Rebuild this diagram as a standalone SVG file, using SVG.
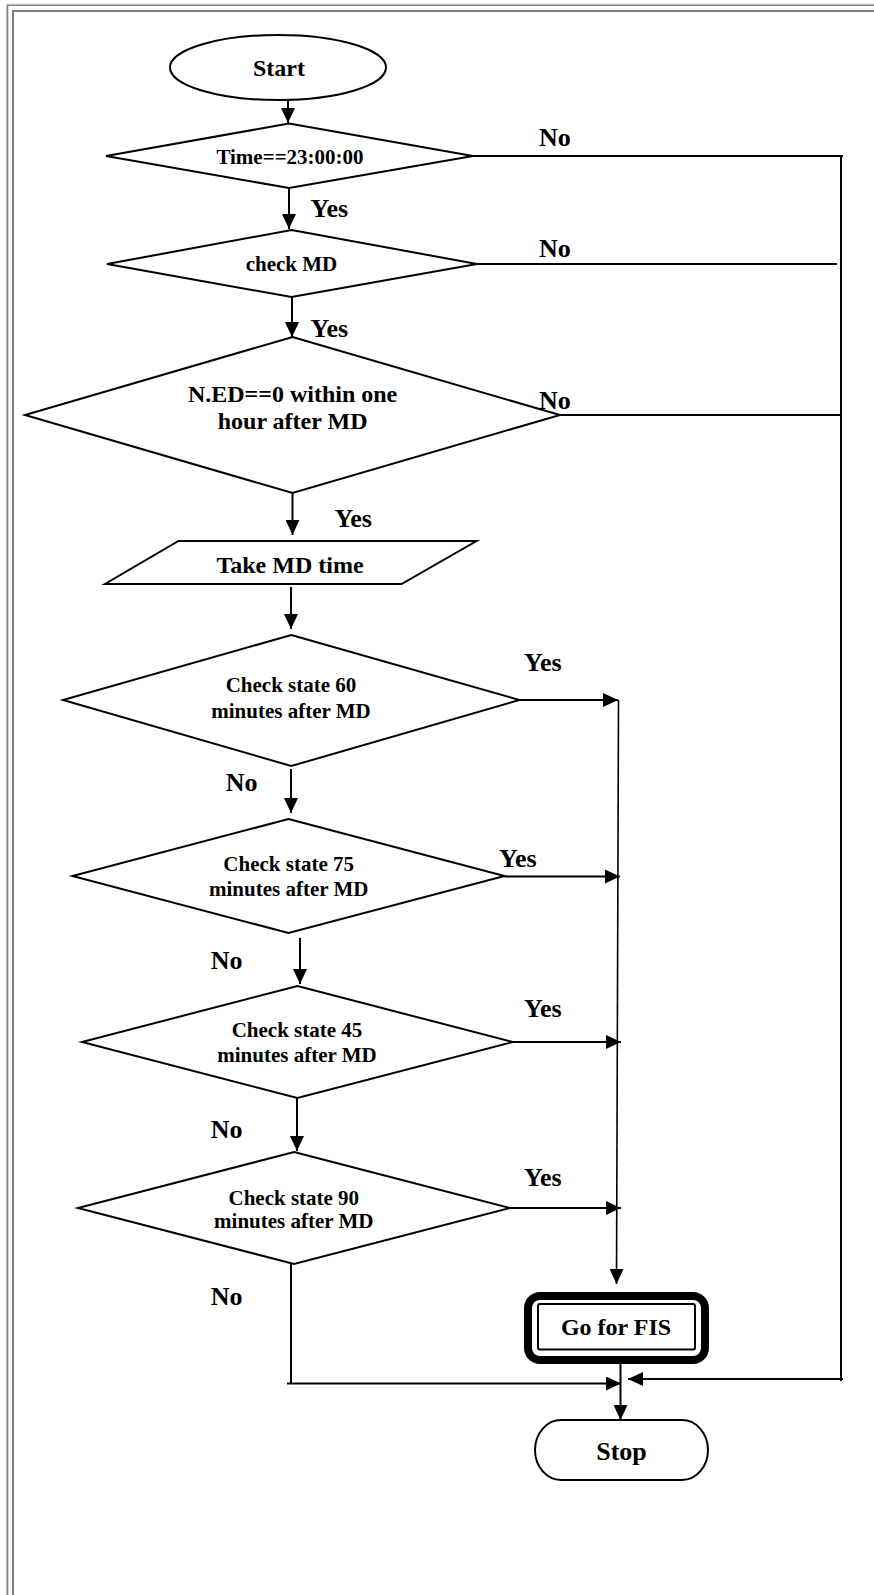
<svg xmlns="http://www.w3.org/2000/svg" width="874" height="1595" viewBox="0 0 874 1595">
  <defs>
    <marker id="arrow" markerUnits="userSpaceOnUse" markerWidth="15" markerHeight="14" refX="15" refY="7" orient="auto">
      <path d="M0,0 L15,7 L0,14 Z" fill="#000"/>
    </marker>
    <style>
      .shape { fill: #fff; stroke: #000; stroke-width: 2; }
      .conn { fill: none; stroke: #000; stroke-width: 2; }
      .thin { fill: none; stroke: #000; stroke-width: 1.6; }
      .t { font-family: "Liberation Serif", "Times New Roman", serif; font-weight: bold; fill: #000; }
      .mid { text-anchor: middle; }
      .lbl { font-size: 26px; }
      .d21 { font-size: 21px; }
      .d24 { font-size: 24px; }
    </style>
  </defs>

  <rect width="874" height="1595" fill="#fff"/>

  <!-- page frame (top and left edges only) -->
  <g id="frame" fill="none">
    <path d="M6.5,1595 V4.3 H874" stroke="#c8c8c8" stroke-width="1"/>
    <path d="M7.6,1595 V5.4 H874" stroke="#808080" stroke-width="1.4"/>
    <path d="M13,1595 V11 H874" stroke="#808080" stroke-width="2"/>
  </g>

  <!-- connectors -->
  <g id="connectors">
    <path class="conn" d="M288,100 V123" marker-end="url(#arrow)"/>
    <path class="conn" d="M289,188 V229" marker-end="url(#arrow)"/>
    <path class="conn" d="M292,297 V337" marker-end="url(#arrow)"/>
    <path class="conn" d="M292.5,493 V535" marker-end="url(#arrow)"/>
    <path class="conn" d="M291,587 V629" marker-end="url(#arrow)"/>
    <path class="conn" d="M291,769 V813" marker-end="url(#arrow)"/>
    <path class="conn" d="M300,938 V984" marker-end="url(#arrow)"/>
    <path class="conn" d="M297,1098 V1151" marker-end="url(#arrow)"/>
    <path class="conn" d="M291,1264 V1383.5"/>
    <path class="conn" d="M287,1383.5 H621" marker-end="url(#arrow)"/>

    <!-- Yes branches into the collector line -->
    <path class="conn" d="M520,700 H618" marker-end="url(#arrow)"/>
    <path class="conn" d="M504.5,876.5 H620" marker-end="url(#arrow)"/>
    <path class="conn" d="M513,1042 H621" marker-end="url(#arrow)"/>
    <path class="conn" d="M510,1208 H621" marker-end="url(#arrow)"/>
    <path class="thin" d="M618.5,700 L616.5,1284" marker-end="url(#arrow)"/>

    <path class="conn" d="M620.5,1364 V1420" marker-end="url(#arrow)"/>

    <!-- No branches on the right -->
    <path class="conn" d="M473,156 H843"/>
    <path class="conn" d="M477,264 H837"/>
    <path class="conn" d="M560,415 H841"/>
    <path class="conn" d="M841,156 V1381"/>
    <path class="conn" d="M843,1379 H628" marker-end="url(#arrow)"/>
  </g>

  <g id="start">
    <ellipse class="shape" cx="278" cy="67.5" rx="108" ry="32.5"/>
    <text class="t mid d24" x="279" y="76">Start</text>
  </g>

  <g id="time-check">
    <polygon class="shape" points="289,123.5 473,156 289,188 106,156"/>
    <text class="t mid d21" x="290" y="164">Time==23:00:00</text>
  </g>

  <g id="check-md">
    <polygon class="shape" points="291.5,230 477,264 291.5,297 107,264"/>
    <text class="t mid d21" x="291.5" y="271">check MD</text>
  </g>

  <g id="ned-check">
    <polygon class="shape" points="292.5,337 560,415 292.5,493 25,415"/>
    <text class="t mid d24" x="292.6" y="401.7">N.ED==0 within one</text>
    <text class="t mid d24" x="292.6" y="429.3">hour after MD</text>
  </g>

  <g id="take-md-time">
    <polygon class="shape" points="178.5,541 476.5,541 401.5,584 105,584"/>
    <text class="t mid d24" x="290" y="572.7">Take MD time</text>
  </g>

  <g id="check-60">
    <polygon class="shape" points="291.3,635 519.5,700 291.3,766 63,700"/>
    <text class="t mid d21" x="291" y="691.7">Check state 60</text>
    <text class="t mid d21" x="291" y="717.7">minutes after MD</text>
  </g>

  <g id="check-75">
    <polygon class="shape" points="288.5,819 504.5,876 288.5,933 72.5,876"/>
    <text class="t mid d21" x="288.7" y="870.7">Check state 75</text>
    <text class="t mid d21" x="288.7" y="896">minutes after MD</text>
  </g>

  <g id="check-45">
    <polygon class="shape" points="297.4,986 512.8,1042 297.4,1098 82,1042"/>
    <text class="t mid d21" x="297" y="1037.3">Check state 45</text>
    <text class="t mid d21" x="297" y="1062.3">minutes after MD</text>
  </g>

  <g id="check-90">
    <polygon class="shape" points="294,1152 510,1208 294,1264 78,1208"/>
    <text class="t mid d21" x="293.8" y="1205">Check state 90</text>
    <text class="t mid d21" x="293.8" y="1228.3">minutes after MD</text>
  </g>

  <g id="go-for-fis">
    <rect x="528" y="1296" width="177" height="64" rx="12" fill="#fff" stroke="#000" stroke-width="8"/>
    <rect x="538" y="1304" width="157" height="45.5" rx="2" fill="none" stroke="#000" stroke-width="2"/>
    <text class="t mid d24" x="616" y="1335">Go for FIS</text>
  </g>

  <g id="stop">
    <rect class="shape" x="535" y="1420" width="173" height="60" rx="26" ry="30"/>
    <text class="t mid lbl" x="621.5" y="1460">Stop</text>
  </g>

  <!-- branch labels -->
  <g id="labels" class="t lbl">
    <text x="539" y="146">No</text>
    <text x="539" y="256.7">No</text>
    <text x="539" y="409.3">No</text>
    <text x="310.5" y="217.3">Yes</text>
    <text x="310.5" y="337.3">Yes</text>
    <text x="334.4" y="526.7">Yes</text>
    <text x="524" y="670.7">Yes</text>
    <text x="499" y="866.7">Yes</text>
    <text x="524" y="1017.3">Yes</text>
    <text x="524" y="1185.7">Yes</text>
    <text x="225.8" y="790.7">No</text>
    <text x="210.7" y="969.3">No</text>
    <text x="210.7" y="1137.7">No</text>
    <text x="210.7" y="1305">No</text>
  </g>
</svg>
